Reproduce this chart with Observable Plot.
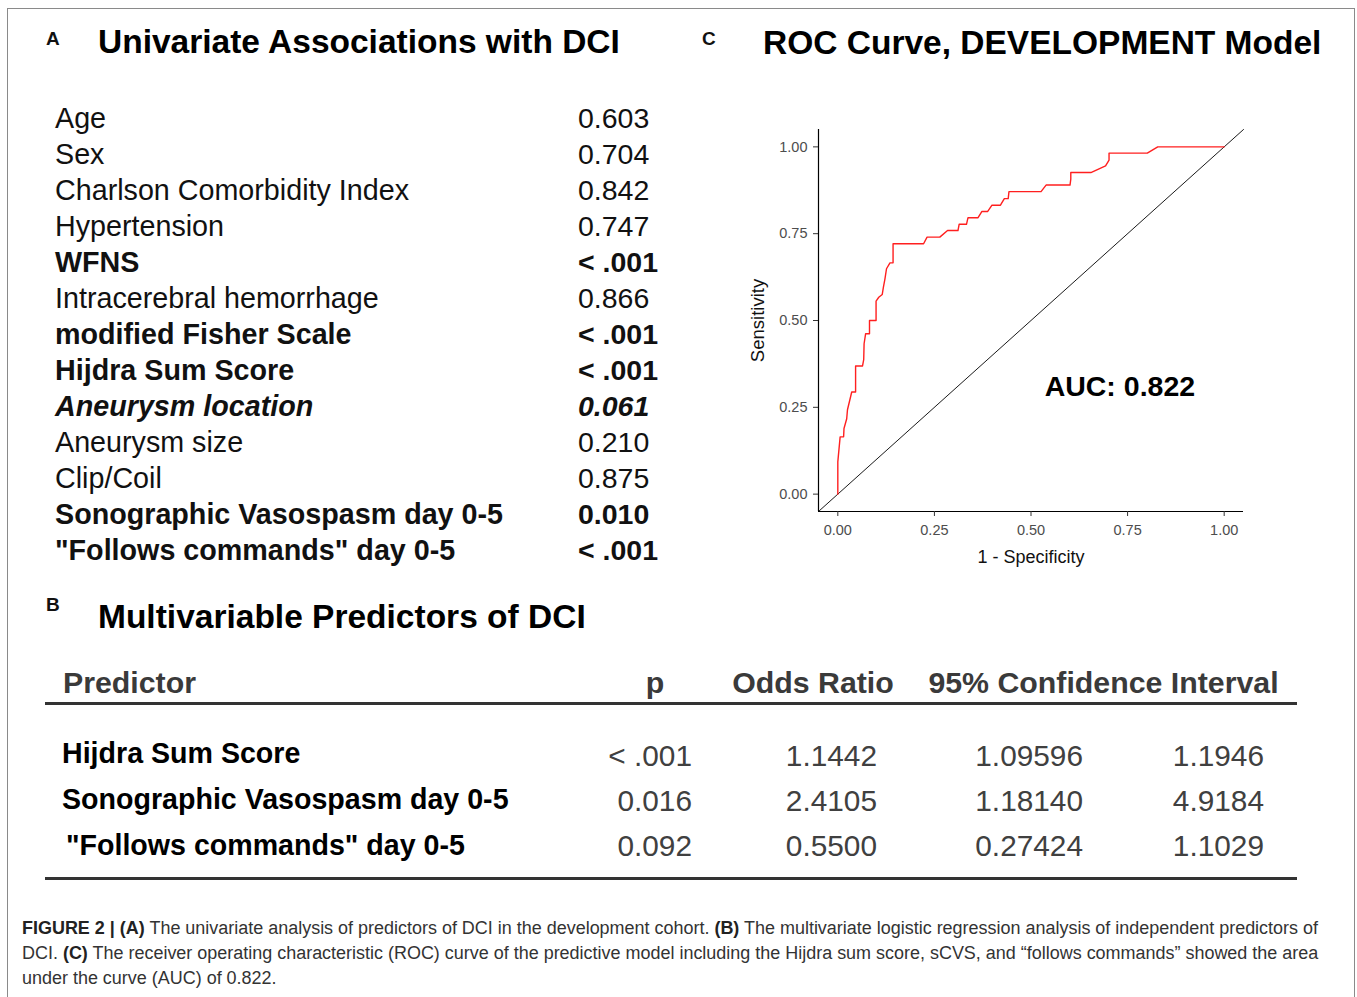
<!DOCTYPE html>
<html>
<head>
<meta charset="utf-8">
<script src="https://cdn.jsdelivr.net/npm/d3@7"></script>
<script src="https://cdn.jsdelivr.net/npm/@observablehq/plot@0.6"></script>
<style>
  html, body { margin: 0; padding: 0; background: #fff; }
  body { width: 1357px; height: 997px; position: relative; overflow: hidden;
         font-family: "Liberation Sans", Arial, Helvetica, sans-serif; color: #111; }
  .t { position: absolute; white-space: nowrap; line-height: 1; }
  .frame { position: absolute; left: 7px; top: 8px; width: 1348px; height: 1100px;
           border: 1.5px solid #8a8a8a; box-sizing: border-box; }
  .hr { position: absolute; background: #333; }
  #roc { position: absolute; left: 740px; top: 120px; }
  .cap { position: absolute; left: 22px; white-space: nowrap; font-size: 18px; line-height: 1;
         color: #333; transform-origin: 0 50%; }
  .cap b { color: #222; }
</style>
</head>
<body>
<div class="frame"></div>
<div id="roc"></div>
<script>
// ---------------- DATA ----------------
const panelLetters = ["A", "B", "C"];
const panelTitles = ["Univariate Associations with DCI", "Multivariable Predictors of DCI", "ROC Curve, DEVELOPMENT Model"];

// Panel A: univariate associations
const univPredictors = ["Age", "Sex", "Charlson Comorbidity Index", "Hypertension", "WFNS",
  "Intracerebral hemorrhage", "modified Fisher Scale", "Hijdra Sum Score", "Aneurysm location",
  "Aneurysm size", "Clip/Coil", "Sonographic Vasospasm day 0-5", "\"Follows commands\" day 0-5"];
const univP = ["0.603", "0.704", "0.842", "0.747", "< .001", "0.866", "< .001", "< .001", "0.061",
  "0.210", "0.875", "0.010", "< .001"];
const univSignificance = ["none", "none", "none", "none", "sig", "none", "sig", "sig", "trend",
  "none", "none", "sig", "sig"];

// Panel B: multivariable predictors
const multiHeaders = ["Predictor", "p", "Odds Ratio", "95% Confidence Interval"];
const multiPredictors = ["Hijdra Sum Score", "Sonographic Vasospasm day 0-5", " \"Follows commands\" day 0-5"];
const multiP = ["< .001", "0.016", "0.092"];
const multiOR = ["1.1442", "2.4105", "0.5500"];
const multiCILow = ["1.09596", "1.18140", "0.27424"];
const multiCIHigh = ["1.1946", "4.9184", "1.1029"];

// Panel C: ROC curve (1 - specificity, sensitivity)
const rocFPR = [0, 0, 0.006, 0.015, 0.016, 0.023, 0.025, 0.036, 0.046, 0.046, 0.064, 0.067, 0.068,
  0.072, 0.082, 0.082, 0.099, 0.099, 0.106, 0.115, 0.118, 0.122, 0.126, 0.135, 0.143, 0.143, 0.222,
  0.231, 0.264, 0.284, 0.311, 0.314, 0.333, 0.337, 0.363, 0.373, 0.388, 0.399, 0.421, 0.431, 0.441,
  0.443, 0.526, 0.539, 0.601, 0.603, 0.603, 0.655, 0.693, 0.702, 0.702, 0.801, 0.828, 1.0];
const rocTPR = [0, 0.093, 0.165, 0.165, 0.189, 0.217, 0.243, 0.294, 0.294, 0.369, 0.369, 0.387, 0.433,
  0.462, 0.462, 0.5, 0.5, 0.556, 0.567, 0.575, 0.596, 0.62, 0.649, 0.666, 0.666, 0.721, 0.721,
  0.74, 0.74, 0.759, 0.759, 0.777, 0.777, 0.796, 0.796, 0.814, 0.814, 0.832, 0.832, 0.851, 0.851,
  0.871, 0.871, 0.890, 0.890, 0.907, 0.926, 0.926, 0.945, 0.962, 0.982, 0.982, 1.0, 1.0];
const auc = 0.822;
const aucLabelPos = {x: 0.73, y: 0.31};
const axisTicks = [0, 0.25, 0.5, 0.75, 1];
const axisDomain = [-0.05, 1.05];
const xAxisTitle = "1 - Specificity";
const yAxisTitle = "Sensitivity";

const captionLines = [
  "<b>FIGURE 2 | (A)</b> The univariate analysis of predictors of DCI in the development cohort. <b>(B)</b> The multivariate logistic regression analysis of independent predictors of",
  "DCI. <b>(C)</b> The receiver operating characteristic (ROC) curve of the predictive model including the Hijdra sum score, sCVS, and \u201cfollows commands\u201d showed the area",
  "under the curve (AUC) of 0.822."
];

// ---------------- LAYOUT HELPERS ----------------
function put(text, x, cy, size, style = {}, align = "left", boxW = 400) {
  const d = document.createElement("div");
  d.className = "t";
  d.textContent = text;
  d.style.fontSize = size + "px";
  d.style.top = (cy - size / 2) + "px";
  if (align === "left") d.style.left = x + "px";
  else if (align === "right") { d.style.left = (x - boxW) + "px"; d.style.width = boxW + "px"; d.style.textAlign = "right"; }
  else { d.style.left = (x - boxW / 2) + "px"; d.style.width = boxW + "px"; d.style.textAlign = "center"; }
  Object.assign(d.style, style);
  document.body.appendChild(d);
  return d;
}
function hline(x1, x2, y, h) {
  const d = document.createElement("div");
  d.className = "hr";
  Object.assign(d.style, {left: x1 + "px", top: (y - h / 2) + "px", width: (x2 - x1) + "px", height: h + "px"});
  document.body.appendChild(d);
}
const bold = {fontWeight: "bold"};

// Panel letters & titles
put(panelLetters[0], 46, 38, 19, bold);
put(panelLetters[1], 46, 604, 19, bold);
put(panelLetters[2], 702, 38, 19, bold);
put(panelTitles[0], 98, 42, 33.5, {...bold, color: "#000"});
put(panelTitles[1], 98, 617, 33.5, {...bold, color: "#000"});
put(panelTitles[2], 763, 43, 33.5, {...bold, color: "#000"});

// Panel A table
univPredictors.forEach((name, i) => {
  const cy = 118 + i * 36;
  const s = univSignificance[i];
  const st = s === "sig" ? {fontWeight: "bold"} : s === "trend" ? {fontWeight: "bold", fontStyle: "italic"} : {};
  put(name, 55, cy, 28.7, st);
  put(univP[i], 578, cy, 28.5, st);
});

// Panel B table
const hdrStyle = {fontWeight: "bold", color: "#3a3a3a"};
put(multiHeaders[0], 63, 683, 30.3, hdrStyle);
put(multiHeaders[1], 655, 683, 30.3, hdrStyle, "center", 100);
put(multiHeaders[2], 813, 683, 30.3, hdrStyle, "center", 300);
put(multiHeaders[3], 1103.5, 683, 30.3, hdrStyle, "center", 420);
hline(45, 1297, 703, 3);
hline(45, 1297, 878, 3);
const valStyle = {color: "#404040"};
multiPredictors.forEach((name, i) => {
  const cy = 753 + i * 46;
  const vy = 756 + i * 45;
  put(name, name.startsWith(" ") ? 58 : 62, cy, 28.6, {fontWeight: "bold", color: "#000", whiteSpace: "pre"});
  put(multiP[i], 692, vy, 29.8, valStyle, "right", 150);
  put(multiOR[i], 877, vy, 29.8, valStyle, "right", 150);
  put(multiCILow[i], 1083, vy, 29.8, valStyle, "right", 150);
  put(multiCIHigh[i], 1264, vy, 29.8, valStyle, "right", 150);
});

// Caption
const capEls = captionLines.map((html, i) => {
  const d = document.createElement("div");
  d.className = "cap";
  d.innerHTML = html;
  d.style.top = (928 + i * 25 - 9) + "px";
  document.body.appendChild(d);
  return d;
});
const w0 = capEls[0].getBoundingClientRect().width;
const sx = 1296 / w0;
capEls.forEach(d => d.style.transform = `scaleX(${sx})`);

// ---------------- ROC CHART (Observable Plot) ----------------
const roc = rocFPR.map((f, i) => ({fpr: f, tpr: rocTPR[i]}));
const chance = axisDomain.map(v => ({x: v, y: v}));
const fmt = d3.format(".2f");

const chart = Plot.plot({
  width: 520,
  height: 460,
  marginLeft: 78,
  marginRight: 17,
  marginTop: 9,
  marginBottom: 69,
  x: {domain: axisDomain},
  y: {domain: axisDomain},
  style: {fontFamily: "'Liberation Sans', Arial, sans-serif", fontSize: "14px", background: "transparent", overflow: "visible"},
  marks: [
    Plot.line(chance, {x: "x", y: "y", stroke: "#1a1a1a", strokeWidth: 1}),
    Plot.line(roc, {x: "fpr", y: "tpr", stroke: "#ff1f1f", strokeWidth: 1.4, curve: "linear"}),
    Plot.ruleX([axisDomain[0]], {stroke: "#000", strokeWidth: 1.2}),
    Plot.ruleY([axisDomain[0]], {stroke: "#000", strokeWidth: 1.2}),
    Plot.axisX(axisTicks, {anchor: "bottom", tickSize: 5, tickPadding: 8, tickFormat: fmt, stroke: "#333", fill: "#4d4d4d", label: null, fontSize: 14.5}),
    Plot.axisY(axisTicks, {anchor: "left", tickSize: 5, tickPadding: 6, tickFormat: fmt, stroke: "#333", fill: "#4d4d4d", label: null, fontSize: 14.5}),
    Plot.text([`AUC: ${auc}`], {x: () => aucLabelPos.x, y: () => aucLabelPos.y, fontSize: 28.5, fontWeight: "bold", fill: "#000"}),
    Plot.text([xAxisTitle], {frameAnchor: "bottom", dy: 46, lineAnchor: "middle", textAnchor: "middle", fontSize: 18, fill: "#111"}),
    Plot.text([yAxisTitle], {frameAnchor: "left", dx: -60, rotate: -90, textAnchor: "middle", lineAnchor: "middle", fontSize: 18.5, fill: "#111"})
  ]
});
document.getElementById("roc").appendChild(chart);
</script>
</body>
</html>
